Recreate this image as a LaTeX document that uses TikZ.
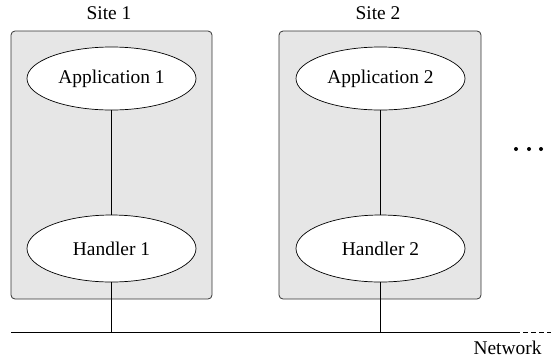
\documentclass[tikz,border=0pt]{standalone}
\usepackage{fontspec}
\setmainfont{Liberation Serif}
\usetikzlibrary{shapes.geometric}
\definecolor{boxgray}{RGB}{230,230,230}
\begin{document}
\begin{tikzpicture}[x=1bp,y=-1bp,
  sitebox/.style={draw=black!80,fill=boxgray,rounded corners=4bp,line width=0.8bp},
  oval/.style={draw,ellipse,fill=white,inner sep=0pt,line width=0.7bp,font=\fontsize{19.5}{22}\selectfont},
  lbl/.style={font=\fontsize{19.5}{22}\selectfont,inner sep=0pt},
  wire/.style={line width=0.8bp}]
\useasboundingbox (0,0) rectangle (551,363);
\draw[sitebox] (11,31) rectangle (212,299);
\draw[sitebox] (279,31) rectangle (481,299);
\node[lbl] (s1) at (109,13) {Site 1};
\node[lbl] (s2) at (378,13) {Site 2};
\node[oval,minimum width=169bp,minimum height=63bp] (a1) at (111.5,78.5) {Application 1};
\node[oval,minimum width=169bp,minimum height=67bp] (h1) at (111.5,248.5) {Handler 1};
\node[oval,minimum width=169bp,minimum height=63bp] (a2) at (380.5,78.5) {Application 2};
\node[oval,minimum width=169bp,minimum height=67bp] (h2) at (380.5,248.5) {Handler 2};
\coordinate (nl) at (11,332);
\coordinate (nm) at (515,332);
\coordinate (nr) at (551,332);
\coordinate (t1) at (111.5,332);
\coordinate (t2) at (380.5,332);
\draw[wire] (a1) -- (h1);
\draw[wire] (a2) -- (h2);
\draw[wire] (h1.south) -- (t1);
\draw[wire] (h2.south) -- (t2);
\draw[wire] (nl) -- (nm);
\draw[wire,dash pattern=on 5bp off 3bp] (nm) -- (nr);
\node[lbl] (net) at (507.5,348) {Network};
\foreach \x in {516,529,541} \fill (\x,149) circle (2bp);
\end{tikzpicture}
\end{document}
